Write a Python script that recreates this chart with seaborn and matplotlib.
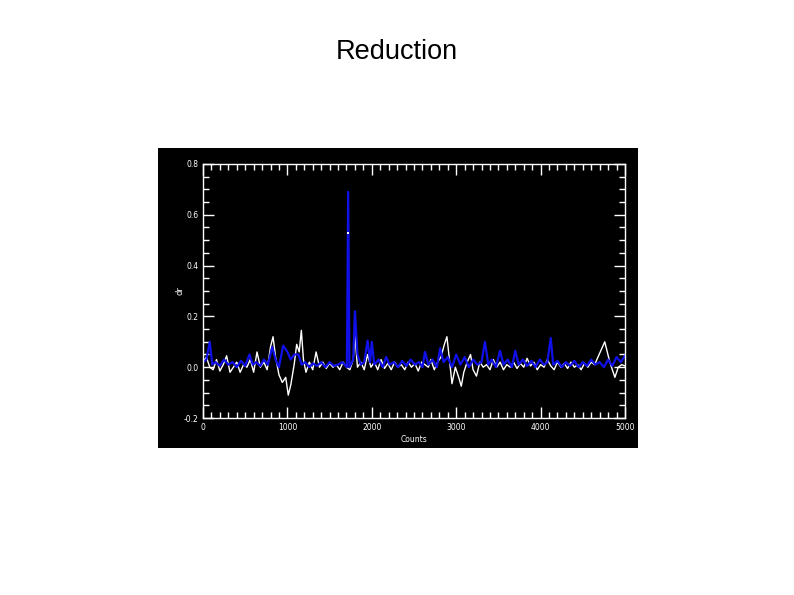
import numpy as np
import pandas as pd
import seaborn as sns
import matplotlib.pyplot as plt
from matplotlib.ticker import MultipleLocator

# values
white_counts = [0, 40, 80, 120, 160, 200, 240, 280, 320, 360, 400, 440, 480, 520, 560, 600,
                640, 680, 720, 760, 800, 830, 860, 900, 940, 980, 1010, 1040, 1080, 1110, 1140,
                1165, 1190, 1220, 1260, 1300, 1340, 1380, 1420, 1460, 1500, 1540, 1580, 1620,
                1660, 1700, 1740, 1780, 1800, 1830, 1870, 1910, 1950, 1990, 2030, 2070,
                2110, 2150, 2190, 2230, 2270, 2310, 2350, 2390, 2430, 2470, 2510, 2550, 2590,
                2630, 2670, 2700, 2740, 2780, 2820, 2860, 2890, 2920, 2950, 2990, 3030, 3060,
                3090, 3130, 3170, 3200, 3240, 3280, 3320, 3360, 3400, 3440, 3480, 3520, 3560,
                3600, 3640, 3680, 3720, 3760, 3800, 3840, 3880, 3920, 3960, 4000, 4040, 4080,
                4120, 4160, 4200, 4240, 4280, 4320, 4360, 4400, 4440, 4480, 4520, 4560, 4600,
                4640, 4680, 4720, 4760, 4790, 4820, 4850, 4880, 4920, 4960, 5000]
white_dr = [0.02, 0.04, 0.0, -0.01, 0.03, -0.015, 0.01, 0.045, -0.02, 0.0, 0.02, -0.02, 0.01,
            0.0, 0.03, -0.02, 0.06, 0.0, 0.02, -0.01, 0.08, 0.12, 0.04, -0.03, -0.06, -0.04,
            -0.11, -0.07, 0.01, 0.09, 0.06, 0.145, 0.03, -0.02, 0.02, -0.01, 0.06, 0.0, 0.02,
            -0.005, 0.015, 0.0, 0.01, -0.01, 0.02, 0.0, -0.01, 0.03, 0.13, 0.0, 0.02,
            -0.01, 0.05, 0.0, 0.02, -0.01, 0.03, -0.005, 0.015, -0.01, 0.02, 0.0, 0.01, -0.01,
            0.02, 0.0, 0.015, -0.015, 0.02, 0.01, 0.0, 0.03, -0.01, 0.02, 0.04, 0.09, 0.12,
            0.03, -0.065, 0.0, -0.04, -0.075, -0.02, 0.02, 0.05, -0.01, -0.035, 0.02, 0.0,
            0.01, -0.01, 0.03, 0.0, 0.02, -0.01, 0.01, 0.0, 0.02, -0.005, 0.015, 0.0, 0.035,
            0.005, 0.02, -0.01, 0.01, 0.0, 0.03, 0.005, -0.01, 0.02, 0.0, 0.015, -0.005, 0.02,
            0.0, 0.01, -0.01, 0.015, 0.0, 0.02, 0.01, 0.04, 0.07, 0.1, 0.06, 0.02, -0.01,
            -0.04, 0.0, 0.01, 0.005]
# lone white dot sitting on the big blue spike
white_dot_count = [1720]
white_dot_dr = [0.53]

blue_counts = [0, 40, 80, 110, 150, 200, 250, 300, 350, 400, 450, 500, 550, 590, 630, 680,
               720, 770, 820, 860, 900, 950, 1000, 1040, 1080, 1130, 1170, 1210, 1260, 1300,
               1350, 1400, 1450, 1500, 1550, 1600, 1650, 1705, 1720, 1735, 1780, 1800, 1830,
               1870, 1910, 1950, 1980, 2000, 2030, 2080, 2130, 2170, 2210, 2260, 2310, 2360,
               2410, 2460, 2510, 2560, 2600, 2630, 2670, 2720, 2770, 2810, 2850, 2900, 2950,
               3000, 3050, 3100, 3150, 3200, 3250, 3300, 3340, 3380, 3420, 3470, 3520, 3560,
               3610, 3660, 3700, 3740, 3790, 3840, 3890, 3940, 3990, 4040, 4080, 4120, 4150,
               4200, 4250, 4300, 4350, 4400, 4450, 4500, 4550, 4600, 4650, 4700, 4750, 4800,
               4850, 4900, 4950, 5000]
blue_dr = [0.02, 0.03, 0.1, 0.01, 0.02, 0.005, 0.03, 0.01, 0.02, 0.0, 0.025, 0.005, 0.05,
           0.01, 0.02, 0.005, 0.03, 0.01, 0.08, 0.03, 0.0, 0.085, 0.06, 0.03, 0.05, 0.05,
           0.01, 0.02, 0.0, 0.015, 0.005, 0.02, 0.0, 0.02, 0.005, 0.01, 0.02, 0.0, 0.69, 0.0,
           0.03, 0.22, 0.05, 0.01, 0.02, 0.105, 0.02, 0.1, 0.01, 0.03, 0.0, 0.04, 0.01, 0.02,
           0.0, 0.025, 0.005, 0.03, 0.01, 0.02, 0.0, 0.06, 0.01, 0.03, 0.0, 0.075, 0.02, 0.04,
           0.0, 0.05, 0.01, 0.04, 0.0, 0.03, 0.01, 0.02, 0.1, 0.01, 0.03, 0.0, 0.065, 0.01,
           0.03, 0.0, 0.065, 0.01, 0.03, 0.005, 0.025, 0.0, 0.03, 0.01, 0.02, 0.115, 0.01,
           0.025, 0.0, 0.02, 0.005, 0.025, 0.0, 0.02, 0.005, 0.03, 0.01, 0.02, 0.0, 0.03,
           0.005, 0.04, 0.02, 0.045]

x_ticks = [0, 1000, 2000, 3000, 4000, 5000]
y_ticks = [-0.2, 0.0, 0.2, 0.4, 0.6, 0.8]

white = pd.DataFrame({"Counts": white_counts, "dr": white_dr})
blue = pd.DataFrame({"Counts": blue_counts, "dr": blue_dr})

fig = plt.figure(figsize=(7.94, 5.95), dpi=100)
fig.patch.set_facecolor("white")

# black image panel behind the plot
bg = fig.add_axes([158 / 794, 1 - 448 / 595, 480 / 794, 300 / 595])
bg.set_facecolor("black")
bg.set_xticks([])
bg.set_yticks([])
for s in bg.spines.values():
    s.set_visible(False)

ax = fig.add_axes([203 / 794, 1 - 418 / 595, 422 / 794, 254 / 595])
ax.set_facecolor("black")

sns.lineplot(data=white, x="Counts", y="dr", color="white", linewidth=1.0, ax=ax,
             estimator=None, sort=False)
sns.lineplot(data=blue, x="Counts", y="dr", color="#1010e8", linewidth=1.6, ax=ax,
             estimator=None, sort=False)
sns.scatterplot(x=white_dot_count, y=white_dot_dr, color="white", s=4, linewidth=0,
                marker="s", ax=ax, zorder=5)

ax.set_xlim(0, 5000)
ax.set_ylim(-0.2, 0.8)
ax.set_xticks(x_ticks)
ax.set_yticks(y_ticks)
ax.set_xticklabels([f"{t}" for t in x_ticks])
ax.set_yticklabels([f"{t:.1f}" for t in y_ticks])
ax.xaxis.set_minor_locator(MultipleLocator(100))
ax.yaxis.set_minor_locator(MultipleLocator(0.05))
ax.tick_params(which="both", direction="in", colors="white", top=True, right=True,
               labelsize=5.5, width=1)
ax.tick_params(which="major", length=8)
ax.tick_params(which="minor", length=4)
for s in ax.spines.values():
    s.set_color("white")
    s.set_linewidth(1)

ax.set_xlabel("Counts", color="white", fontsize=5.5, labelpad=2)
ax.set_ylabel("dr", color="white", fontsize=6, labelpad=-1)

fig.text(0.5, 1 - 52 / 595, "Reduction", ha="center", va="center",
         fontsize=19.5, family="Liberation Sans", color="black")

plt.savefig("out.png", dpi=100, facecolor="white")
